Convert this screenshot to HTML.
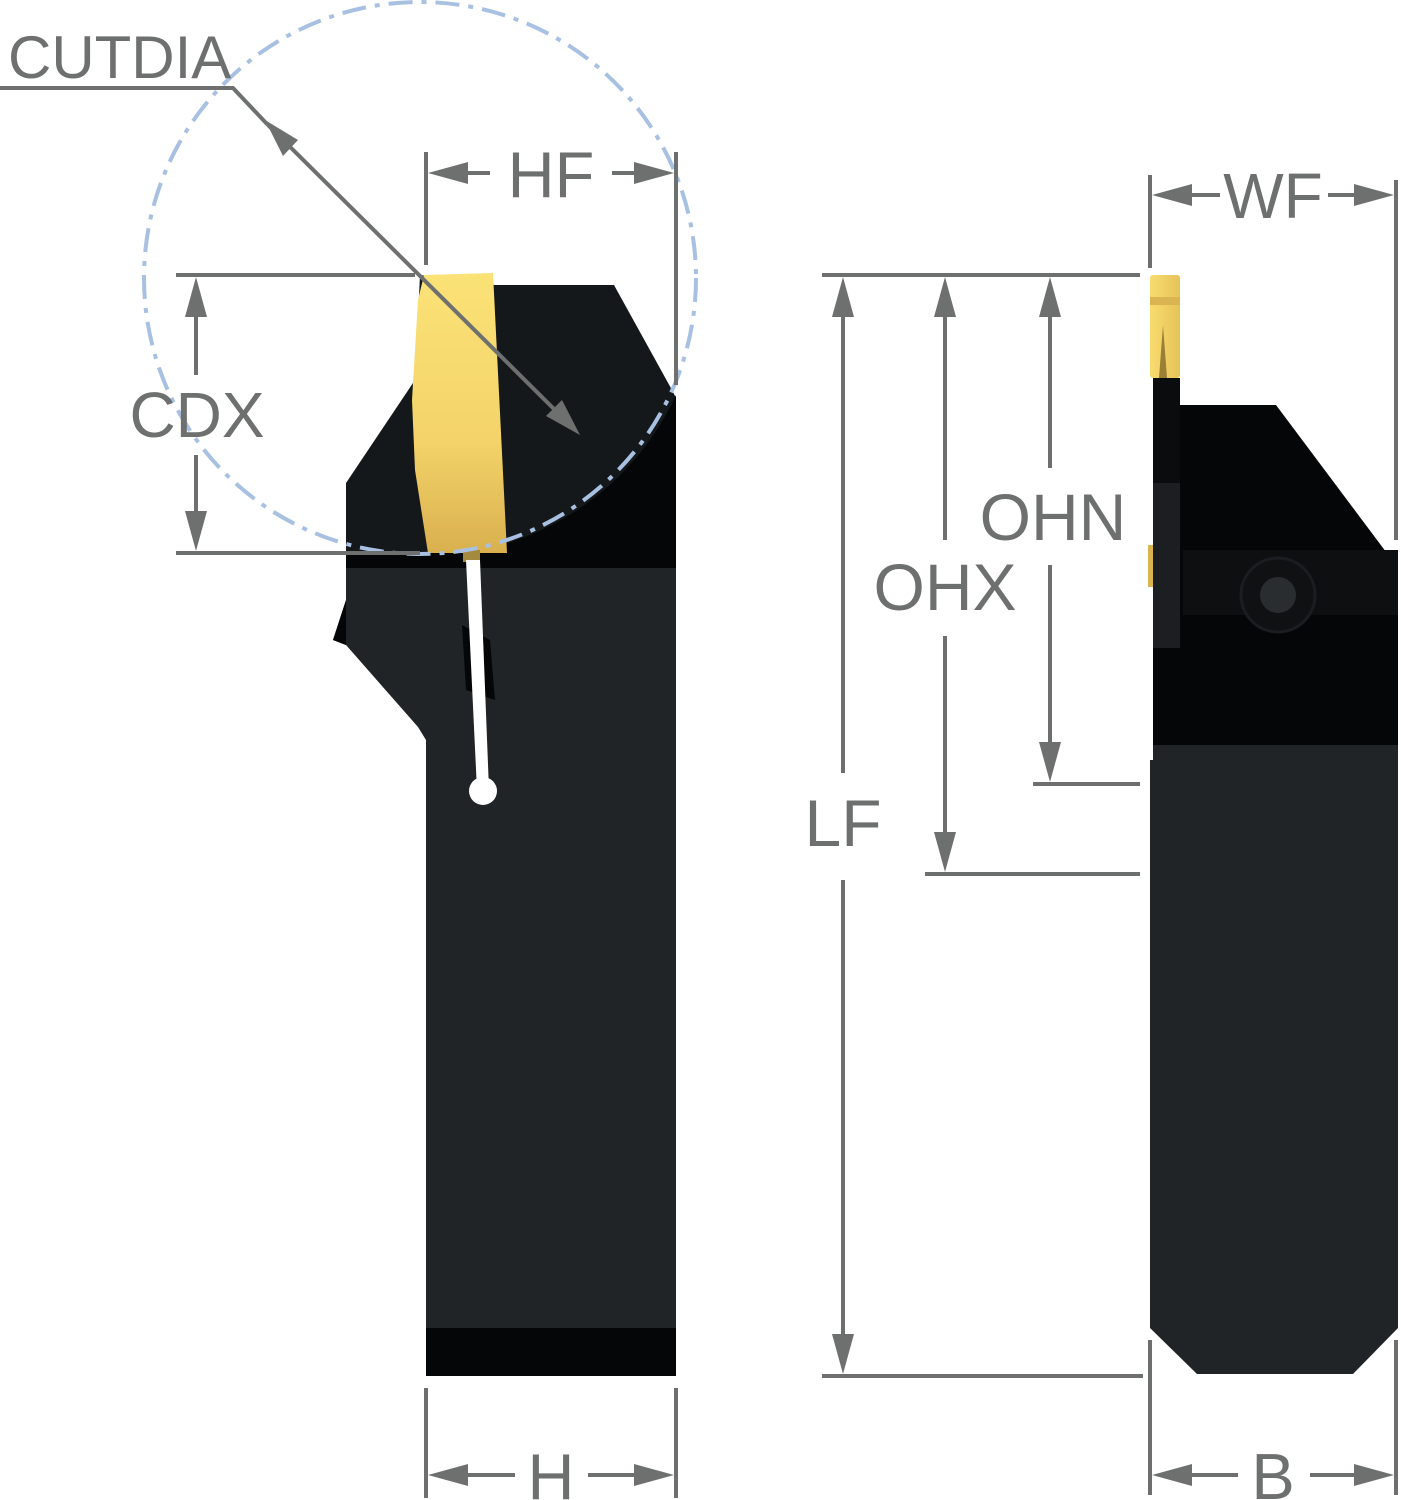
<!DOCTYPE html>
<html><head><meta charset="utf-8"><style>html,body{margin:0;padding:0;background:#fff}svg{display:block}text{font-family:"Liberation Sans",sans-serif;fill:#6e7070}</style></head>
<body>
<svg width="1401" height="1500" viewBox="0 0 1401 1500" xmlns="http://www.w3.org/2000/svg">
<defs>
<linearGradient id="gold" x1="0" y1="0" x2="0" y2="1"><stop offset="0" stop-color="#fbe277"/><stop offset="0.6" stop-color="#f3d36a"/><stop offset="1" stop-color="#d9b04e"/></linearGradient>
<linearGradient id="gold2" x1="0" y1="0" x2="1" y2="0"><stop offset="0" stop-color="#f8dc6e"/><stop offset="1" stop-color="#e6c35a"/></linearGradient>
</defs>
<!-- LEFT TOOL -->
<rect x="426" y="555" width="250" height="821" fill="#212427"/>
<rect x="426" y="1328" width="250" height="48" fill="#050607"/>
<polygon points="346,483 415,380 420,275 495,285 614,285 672,390 676,398 676,568 346,568" fill="#15181b"/>
<path d="M676,395 A276,276 0 0 1 470,552 L676,568 Z" fill="#050607"/>
<rect x="346" y="552" width="330" height="16" fill="#050607"/>
<polygon points="346,568 426,568 426,740 418,727 346,645 333,640 346,600" fill="#212427"/>
<polygon points="333,640 346,600 346,645" fill="#050607"/>
<polygon points="462,625 490,640 495,700 466,690" fill="#050607"/>
<polygon points="424,275 493,273 507,553 428,553 415,470 412,400 418,300" fill="url(#gold)"/>
<rect x="463" y="550" width="17" height="12" fill="#a48a3e"/>
<polygon points="466,560 480,560 489,790 477,790" fill="#fff"/>
<circle cx="483" cy="791" r="14" fill="#fff"/>
<!-- RIGHT TOOL -->
<polygon points="1150,760 1153,760 1153,645 1398,645 1398,1328 1353,1374 1197,1374 1150,1328" fill="#212427"/>
<rect x="1153" y="645" width="245" height="100" fill="#050607"/>
<rect x="1153" y="378" width="27" height="270" fill="#0a0c0e"/>
<rect x="1153" y="483" width="27" height="165" fill="#1c1f22"/>
<polygon points="1180,405 1276,405 1398,568 1398,645 1180,645" fill="#050607"/>
<rect x="1183" y="550" width="215" height="65" fill="#0d0f11"/>
<circle cx="1278" cy="595" r="37" fill="#0f1113" stroke="#1b1e21" stroke-width="3"/>
<circle cx="1278" cy="595" r="18" fill="#2a2d30"/>
<rect x="1148" y="545" width="5" height="42" fill="#d9b450"/>
<rect x="1150" y="275" width="30" height="103" rx="3" fill="url(#gold2)"/>
<rect x="1150" y="297" width="30" height="8" fill="#d9b450"/>
<polygon points="1163,325 1167,378 1159,378" fill="#9a7f36"/>
<!-- Circle -->
<circle cx="420" cy="278" r="276" fill="none" stroke="#a8c0e2" stroke-width="4" stroke-dasharray="24 9 5 9"/>
<!-- DIMENSIONS -->
<g stroke="#6e7070" stroke-width="4" fill="none">
<polyline points="0,88 233,88 267,124"/>
<line x1="267" y1="124" x2="560" y2="415"/>
<line x1="426" y1="152" x2="426" y2="265"/>
<line x1="676" y1="152" x2="676" y2="385"/>
<line x1="440" y1="173" x2="490" y2="173"/>
<line x1="612" y1="173" x2="665" y2="173"/>
<line x1="176" y1="275" x2="415" y2="275"/>
<line x1="176" y1="553" x2="420" y2="553"/>
<line x1="196" y1="300" x2="196" y2="375"/>
<line x1="196" y1="455" x2="196" y2="530"/>
<line x1="426" y1="1388" x2="426" y2="1498"/>
<line x1="676" y1="1388" x2="676" y2="1498"/>
<line x1="440" y1="1475" x2="515" y2="1475"/>
<line x1="588" y1="1475" x2="662" y2="1475"/>
<line x1="822" y1="275" x2="1140" y2="275"/>
<line x1="822" y1="1376" x2="1143" y2="1376"/>
<line x1="925" y1="874" x2="1140" y2="874"/>
<line x1="1033" y1="784" x2="1140" y2="784"/>
<line x1="843" y1="300" x2="843" y2="773"/>
<line x1="843" y1="880" x2="843" y2="1350"/>
<line x1="945" y1="300" x2="945" y2="540"/>
<line x1="945" y1="636" x2="945" y2="850"/>
<line x1="1050" y1="300" x2="1050" y2="468"/>
<line x1="1050" y1="565" x2="1050" y2="760"/>
<line x1="1150" y1="175" x2="1150" y2="268"/>
<line x1="1396" y1="180" x2="1396" y2="540"/>
<line x1="1165" y1="195" x2="1220" y2="195"/>
<line x1="1328" y1="195" x2="1382" y2="195"/>
<line x1="1150" y1="1340" x2="1150" y2="1495"/>
<line x1="1396" y1="1340" x2="1396" y2="1495"/>
<line x1="1165" y1="1475" x2="1238" y2="1475"/>
<line x1="1310" y1="1475" x2="1382" y2="1475"/>
</g>
<g fill="#6e7070">
<polygon points="265,120 298,140 283,156"/>
<polygon points="580,435 546,416 562,400"/>
<polygon points="428,173 468,162 468,184"/>
<polygon points="674,173 634,162 634,184"/>
<polygon points="196,277 185,317 207,317"/>
<polygon points="196,551 185,511 207,511"/>
<polygon points="428,1475 468,1464 468,1486"/>
<polygon points="674,1475 634,1464 634,1486"/>
<polygon points="843,277 832,317 854,317"/>
<polygon points="843,1374 832,1334 854,1334"/>
<polygon points="945,277 934,317 956,317"/>
<polygon points="945,872 934,832 956,832"/>
<polygon points="1050,277 1039,317 1061,317"/>
<polygon points="1050,782 1039,742 1061,742"/>
<polygon points="1152,195 1192,184 1192,206"/>
<polygon points="1394,195 1354,184 1354,206"/>
<polygon points="1152,1475 1192,1464 1192,1486"/>
<polygon points="1394,1475 1354,1464 1354,1486"/>
</g>
<text x="8" y="78" font-size="60">CUTDIA</text>
<text x="551" y="197" font-size="65" text-anchor="middle">HF</text>
<text x="197" y="437" font-size="64" text-anchor="middle">CDX</text>
<text x="551" y="1499" font-size="65" text-anchor="middle">H</text>
<text x="1273" y="218" font-size="64" text-anchor="middle">WF</text>
<text x="1273" y="1499" font-size="65" text-anchor="middle">B</text>
<text x="1053" y="540" font-size="66" text-anchor="middle">OHN</text>
<text x="945" y="610" font-size="66" text-anchor="middle">OHX</text>
<text x="843" y="846" font-size="66" text-anchor="middle">LF</text>
</svg>
</body></html>
